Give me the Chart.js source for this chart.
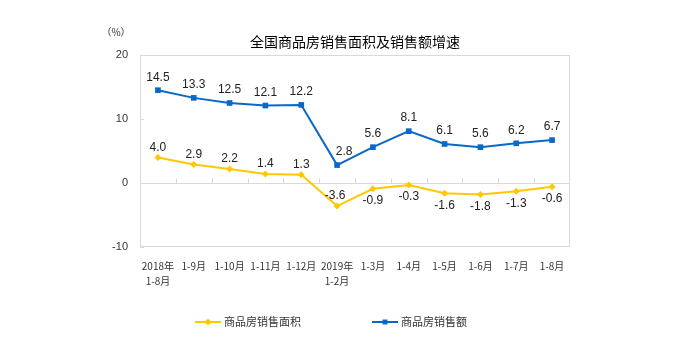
<!DOCTYPE html>
<html>
<head>
<meta charset="utf-8">
<script src="https://cdn.jsdelivr.net/npm/chart.js@4"></script>
<style>
  html, body { margin: 0; padding: 0; background: #fff; }
  #wrap { width: 685px; height: 354px; }
</style>
</head>
<body>
<div id="wrap"><canvas id="salesChart"></canvas></div>
<script>
// 月份类别
const categories = [
    ['2018年', '1-8月'], '1-9月', '1-10月', '1-11月', '1-12月',
    ['2019年', '1-2月'], '1-3月', '1-4月', '1-5月', '1-6月', '1-7月', '1-8月'
];
// 商品房销售面积增速 (%)
const areaGrowth = [4.0, 2.9, 2.2, 1.4, 1.3, -3.6, -0.9, -0.3, -1.6, -1.8, -1.3, -0.6];
// 商品房销售额增速 (%)
const amountGrowth = [14.5, 13.3, 12.5, 12.1, 12.2, 2.8, 5.6, 8.1, 6.1, 5.6, 6.2, 6.7];
const yTicks = [-10, 0, 10, 20];

const titleText = '全国商品房销售面积及销售额增速';
const yellow = '#FFC800';
const blue = '#0A68C8';
const cjk = '"Noto Sans CJK SC", sans-serif';

// 边框、刻度、标题、数据标签和图例
const decorPlugin = {
    id: 'decor',
    beforeDatasetsDraw(chart) {
        const { ctx, chartArea: a, scales: { x, y } } = chart;
        ctx.save();
        ctx.strokeStyle = '#d9d9d9';
        ctx.lineWidth = 1;
        ctx.strokeRect(a.left + 0.5, a.top + 0.5, a.width - 1, a.height - 1);
        // 零线和刻度
        const y0 = Math.round(y.getPixelForValue(0)) + 0.5;
        ctx.beginPath();
        ctx.moveTo(a.left, y0);
        ctx.lineTo(a.right, y0);
        const step = x.getPixelForValue(1) - x.getPixelForValue(0);
        for (let i = 1; i < categories.length; i++) {
            const px = Math.round(x.getPixelForValue(i) - step / 2) + 0.5;
            ctx.moveTo(px, y0);
            ctx.lineTo(px, y0 - 5);
        }
        yTicks.forEach(v => {
            const py = Math.round(y.getPixelForValue(v)) + 0.5;
            ctx.moveTo(a.left, py);
            ctx.lineTo(a.left + 4, py);
        });
        ctx.stroke();
        ctx.restore();
    },
    afterDatasetsDraw(chart) {
        const { ctx, chartArea: a } = chart;
        ctx.save();
        // 标题
        ctx.fillStyle = '#000';
        ctx.font = '14px ' + cjk;
        ctx.textAlign = 'center';
        ctx.textBaseline = 'middle';
        ctx.fillText(titleText, (a.left + a.right) / 2, 42);
        ctx.font = '10px ' + cjk;
        ctx.fillStyle = '#333';
        ctx.fillText('（%）', 116, 32);

        // 数据标签
        ctx.font = '12px "Liberation Sans", Arial, sans-serif';
        ctx.fillStyle = '#222';
        chart.data.datasets.forEach((ds, di) => {
            const meta = chart.getDatasetMeta(di);
            meta.data.forEach((pt, i) => {
                const v = ds.data[i];
                let dx = 0;
                let dy;
                if (di === 1) {
                    dy = -13;
                    if (i === 5) dx = 7;
                } else {
                    dy = (v < 0 && i !== 5) ? 12 : -10;
                    if (i === 5) dx = -2;
                }
                ctx.fillText(v.toFixed(1), pt.x + dx, pt.y + dy);
            });
        });

        // 图例
        const ly = 322;
        const items = [
            { x: 195, color: yellow, style: 'rectRot', r: 3.5, text: '商品房销售面积' },
            { x: 372, color: blue, style: 'rect', r: 3.5, text: '商品房销售额' }
        ];
        items.forEach(it => {
            ctx.strokeStyle = it.color;
            ctx.lineWidth = 2;
            ctx.beginPath();
            ctx.moveTo(it.x, ly);
            ctx.lineTo(it.x + 26, ly);
            ctx.stroke();
            ctx.fillStyle = it.color;
            Chart.helpers.drawPoint(ctx, { pointStyle: it.style, radius: it.r, borderWidth: 0 }, it.x + 13, ly);
            ctx.fillStyle = '#333';
            ctx.font = '11px ' + cjk;
            ctx.textAlign = 'left';
            ctx.fillText(it.text, it.x + 29, ly);
        });
        ctx.restore();
    }
};

const ctx = document.getElementById('salesChart').getContext('2d');

const salesChart = new Chart(ctx, {
    type: 'line',
    data: {
        labels: categories,
        datasets: [{
            label: '商品房销售面积',
            data: areaGrowth,
            borderColor: yellow,
            backgroundColor: yellow,
            borderWidth: 2,
            pointStyle: 'rectRot',
            pointRadius: 3.5,
            pointBorderWidth: 0,
            tension: 0
        }, {
            label: '商品房销售额',
            data: amountGrowth,
            borderColor: blue,
            backgroundColor: blue,
            borderWidth: 2,
            pointStyle: 'rect',
            pointRadius: 4,
            pointBorderWidth: 0,
            tension: 0
        }]
    },
    options: {
        responsive: true,
        maintainAspectRatio: false,
        animation: false,
        layout: { padding: { top: 55, right: 115, bottom: 0, left: 0 } },
        scales: {
            x: {
                offset: true,
                grid: { display: false },
                border: { display: false },
                ticks: {
                    autoSkip: false,
                    maxRotation: 0,
                    padding: 4,
                    color: '#333',
                    font: { size: 10, family: cjk, lineHeight: 1.45 }
                },
                afterFit(scale) { scale.height = 107; }
            },
            y: {
                min: -10,
                max: 20,
                afterBuildTicks(scale) { scale.ticks = yTicks.map(v => ({ value: v })); },
                grid: { display: false, drawTicks: false },
                border: { display: false },
                ticks: {
                    padding: 12,
                    color: '#333',
                    font: { size: 11, family: '"Liberation Sans", Arial, sans-serif' }
                },
                afterFit(scale) { scale.width = 140; }
            }
        },
        plugins: {
            legend: { display: false },
            tooltip: { enabled: false }
        }
    },
    plugins: [decorPlugin]
});
</script>
</body>
</html>
